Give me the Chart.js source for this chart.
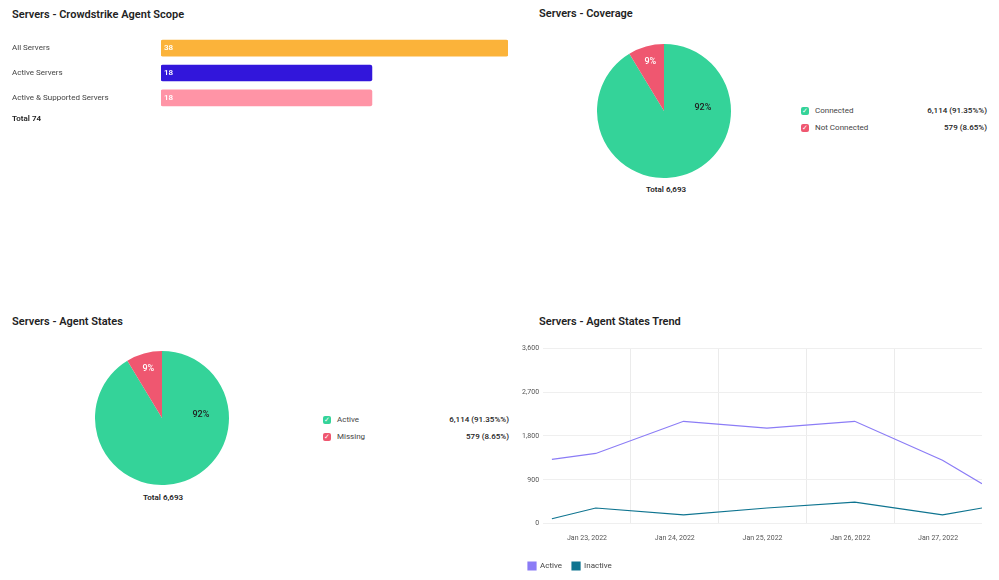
<!DOCTYPE html>
<html>
<head>
<meta charset="utf-8">
<script src="https://cdn.jsdelivr.net/npm/chart.js@4"></script>
<style>
  body { margin: 0; width: 999px; height: 580px; background: #fff; font-family: Roboto, sans-serif; color: #222; position: relative; overflow: hidden; }
  .titulo { position: absolute; font-size: 11px; font-weight: 600; }
  .caja { position: absolute; }
  .leyenda { position: absolute; font-size: 8px; color: #444; }
  .leyenda div { display: flex; align-items: center; height: 17px; }
  .leyenda .cuadro { width: 8px; height: 8px; border-radius: 2px; margin-right: 6px; color: #fff; font-size: 7px; line-height: 8px; text-align: center; }
  .leyenda .valor { margin-left: auto; color: #222; font-weight: 500; }
  .total { position: absolute; font-size: 8px; font-weight: 600; }
</style>
</head>
<body>
<div class="titulo" style="left:12px;top:8px">Servers - Crowdstrike Agent Scope</div>
<div class="titulo" style="left:539px;top:7px">Servers - Coverage</div>
<div class="titulo" style="left:12px;top:315px">Servers - Agent States</div>
<div class="titulo" style="left:539px;top:315px">Servers - Agent States Trend</div>

<div class="caja" style="left:0;top:28px;width:520px;height:90px"><canvas id="grafica-alcance"></canvas></div>
<div class="total" style="left:12px;top:114px">Total 74</div>

<div class="caja" style="left:597px;top:44px;width:134px;height:134px"><canvas id="grafica-cobertura"></canvas></div>
<div class="total" style="left:646px;top:185px">Total 6,693</div>
<div class="leyenda" id="leyenda-cobertura" style="left:801px;top:102px;width:186px"></div>

<div class="caja" style="left:95px;top:351px;width:134px;height:134px"><canvas id="grafica-estados"></canvas></div>
<div class="total" style="left:143px;top:493px">Total 6,693</div>
<div class="leyenda" id="leyenda-estados" style="left:323px;top:411px;width:186px"></div>

<div class="caja" style="left:518px;top:340px;width:474px;height:240px"><canvas id="grafica-tendencia"></canvas></div>

<script>
// ============================================================
// DATOS
// ============================================================
const categoriasAlcance = ['All Servers', 'Active Servers', 'Active & Supported Servers'];
const valoresAlcance = [38, 18, 18];
const coloresAlcance = ['#FBB33A', '#3216DB', '#FF94A6'];

const etiquetasCobertura = ['Connected', 'Not Connected'];
const valoresCobertura = [6114, 579];
const textosCobertura = ['6,114 (91.35%%)', '579 (8.65%)'];

const etiquetasEstados = ['Active', 'Missing'];
const valoresEstados = [6114, 579];
const textosEstados = ['6,114 (91.35%%)', '579 (8.65%)'];

const coloresPie = ['#34D399', '#EF5770'];

// x en días de enero 2022
const fechasTendencia = [22.6, 23.1, 24.1, 25.05, 26.05, 27.05, 27.5];
const serieActivos = [1320, 1440, 2100, 1960, 2100, 1300, 820];
const serieInactivos = [100, 320, 180, 320, 440, 180, 320];
const ticksY = [0, 900, 1800, 2700, 3600];

Chart.defaults.font.family = 'Roboto, sans-serif';
Chart.defaults.font.size = 8;
Chart.defaults.color = '#555';

// ============================================================
// BARRAS: ALCANCE DEL AGENTE
// ============================================================
const etiquetaEnBarra = {
  id: 'etiquetaEnBarra',
  afterDatasetsDraw(chart) {
    const ctx = chart.ctx;
    ctx.save();
    ctx.fillStyle = '#fff';
    ctx.font = '600 8px Roboto, sans-serif';
    ctx.textBaseline = 'middle';
    chart.getDatasetMeta(0).data.forEach((barra, i) => {
      ctx.fillText(valoresAlcance[i], barra.base + 3, barra.y);
    });
    ctx.restore();
  },
};

new Chart(document.getElementById('grafica-alcance'), {
  type: 'bar',
  data: {
    labels: categoriasAlcance,
    datasets: [{ data: valoresAlcance, base: -13, backgroundColor: coloresAlcance, borderRadius: 2, borderSkipped: false, barThickness: 16 }],
  },
  options: {
    indexAxis: 'y',
    responsive: true,
    maintainAspectRatio: false,
    animation: false,
    layout: { padding: { left: 12, right: 12 } },
    plugins: { legend: { display: false }, tooltip: { enabled: false } },
    scales: {
      x: { min: -13, max: 38, display: false },
      y: {
        grid: { display: false },
        border: { display: false },
        afterFit(eje) { eje.width = 161 - 12; },
        ticks: { color: '#444', crossAlign: 'far', font: { size: 8 } },
      },
    },
  },
  plugins: [etiquetaEnBarra],
});

// ============================================================
// PIES
// ============================================================
const porcentajesPie = {
  id: 'porcentajesPie',
  afterDatasetsDraw(chart) {
    const ctx = chart.ctx;
    const datos = chart.data.datasets[0].data;
    const suma = datos.reduce((a, b) => a + b, 0);
    ctx.save();
    ctx.font = '500 9px Roboto, sans-serif';
    ctx.textAlign = 'center';
    ctx.textBaseline = 'middle';
    chart.getDatasetMeta(0).data.forEach((arco, i) => {
      const texto = Math.ceil(datos[i] / suma * 100) + '%';
      if (i === 0) {
        ctx.fillStyle = '#222';
        ctx.fillText(texto, arco.x + arco.outerRadius * 0.58, arco.y - 3);
      } else {
        const medio = (arco.startAngle + arco.endAngle) / 2;
        const r = arco.outerRadius * 0.76;
        ctx.fillStyle = '#fff';
        ctx.fillText(texto, arco.x + Math.cos(medio) * r, arco.y + Math.sin(medio) * r);
      }
    });
    ctx.restore();
  },
};

function crearPie(id, etiquetas, valores) {
  new Chart(document.getElementById(id), {
    type: 'pie',
    data: { labels: etiquetas, datasets: [{ data: valores, backgroundColor: coloresPie, borderWidth: 0 }] },
    options: {
      responsive: true,
      maintainAspectRatio: false,
      animation: false,
      plugins: { legend: { display: false }, tooltip: { enabled: false } },
    },
    plugins: [porcentajesPie],
  });
}

function crearLeyenda(id, etiquetas, textos) {
  document.getElementById(id).innerHTML = etiquetas.map((e, i) =>
    `<div><span class="cuadro" style="background:${coloresPie[i]}">✓</span>${e}<span class="valor">${textos[i]}</span></div>`
  ).join('');
}

crearPie('grafica-cobertura', etiquetasCobertura, valoresCobertura);
crearLeyenda('leyenda-cobertura', etiquetasCobertura, textosCobertura);
crearPie('grafica-estados', etiquetasEstados, valoresEstados);
crearLeyenda('leyenda-estados', etiquetasEstados, textosEstados);

// ============================================================
// LÍNEAS: TENDENCIA DE ESTADOS
// ============================================================
new Chart(document.getElementById('grafica-tendencia'), {
  type: 'line',
  data: {
    datasets: [
      { label: 'Active', data: fechasTendencia.map((x, i) => ({ x, y: serieActivos[i] })), borderColor: '#8B7CF6', backgroundColor: '#8B7CF6', borderWidth: 1.2, pointRadius: 0, tension: 0 },
      { label: 'Inactive', data: fechasTendencia.map((x, i) => ({ x, y: serieInactivos[i] })), borderColor: '#0E7490', backgroundColor: '#0E7490', borderWidth: 1.2, pointRadius: 0, tension: 0 },
    ],
  },
  options: {
    responsive: true,
    maintainAspectRatio: false,
    animation: false,
    plugins: {
      tooltip: { enabled: false },
      legend: {
        position: 'bottom',
        align: 'start',
        labels: { boxWidth: 8, boxHeight: 8, padding: 10, color: '#444', font: { size: 8 } },
      },
    },
    scales: {
      x: {
        type: 'linear',
        min: 22.5,
        max: 27.5,
        afterBuildTicks(eje) {
          eje.ticks = [22.5, 23, 23.5, 24, 24.5, 25, 25.5, 26, 26.5, 27, 27.5].map(v => ({ value: v }));
        },
        border: { display: false },
        grid: { color: c => (c.tick && c.tick.value % 1 !== 0 && c.tick.value > 22.5 && c.tick.value < 27.5) ? '#EBEBEB' : 'transparent', drawTicks: false },
        ticks: {
          padding: 10,
          color: '#555',
          font: { size: 7 },
          maxRotation: 0,
          autoSkip: false,
          callback: v => (v % 1 === 0 ? `Jan ${v}, 2022` : ''),
        },
      },
      y: {
        min: 0,
        max: 3600,
        afterBuildTicks(eje) { eje.ticks = ticksY.map(v => ({ value: v })); },
        border: { display: false },
        grid: { color: '#EFEFEF', drawTicks: false },
        ticks: { padding: 4, color: '#555', font: { size: 7 }, callback: v => v.toLocaleString('en-US') },
      },
    },
  },
});
</script>
</body>
</html>
